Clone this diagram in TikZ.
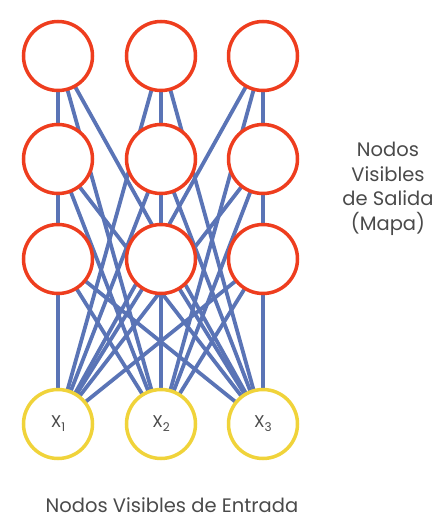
\documentclass[tikz,border=0pt]{standalone}
\usepackage{fontspec}
\setmainfont{Poppins}
\usetikzlibrary{backgrounds}
\definecolor{outred}{HTML}{EE3D1E}
\definecolor{inyel}{HTML}{F0D33A}
\definecolor{edgeblue}{HTML}{5A74B6}
\definecolor{txtgray}{HTML}{4A4A4A}
\tikzset{
  outnode/.style={circle,draw=outred,line width=3.5pt,fill=white,minimum size=69pt,inner sep=0pt},
  innode/.style={circle,draw=inyel,line width=3.5pt,fill=white,minimum size=69pt,inner sep=0pt,font=\fontsize{17}{20}\selectfont\color{txtgray}},
  edge/.style={draw=edgeblue,line width=3.8pt},
  lbl/.style={font=\fontsize{19.5}{24.5}\selectfont,text=txtgray,align=center}
}
\newcommand{\lowsub}[1]{\raisebox{-4pt}{\fontsize{12}{14}\selectfont #1}}
\begin{document}
\begin{tikzpicture}[x=1pt,y=-1pt]
\useasboundingbox (0,0) rectangle (445,522);
\node[innode] (x1) at (58,424) {X\lowsub{1}};
\node[innode] (x2) at (161,424) {X\lowsub{2}};
\node[innode] (x3) at (263,424) {X\lowsub{3}};
\foreach \c/\x in {1/58,2/161,3/263}{
  \foreach \r/\y in {1/56,2/159,3/259}{
    \node[outnode] (o\r\c) at (\x,\y) {};
  }
}
\begin{scope}[on background layer]
\foreach \r in {1,2,3}{
  \foreach \c in {1,2,3}{
    \foreach \i in {1,2,3}{
      \path[edge] (x\i.center) -- (o\r\c.center);
    }
  }
}
\end{scope}
\node[lbl] (outlbl) at (388,189) {Nodos\\Visibles\\de Salida\\(Mapa)};
\node[lbl] (inlbl) at (172,505) {Nodos Visibles de Entrada};
\end{tikzpicture}
\end{document}
